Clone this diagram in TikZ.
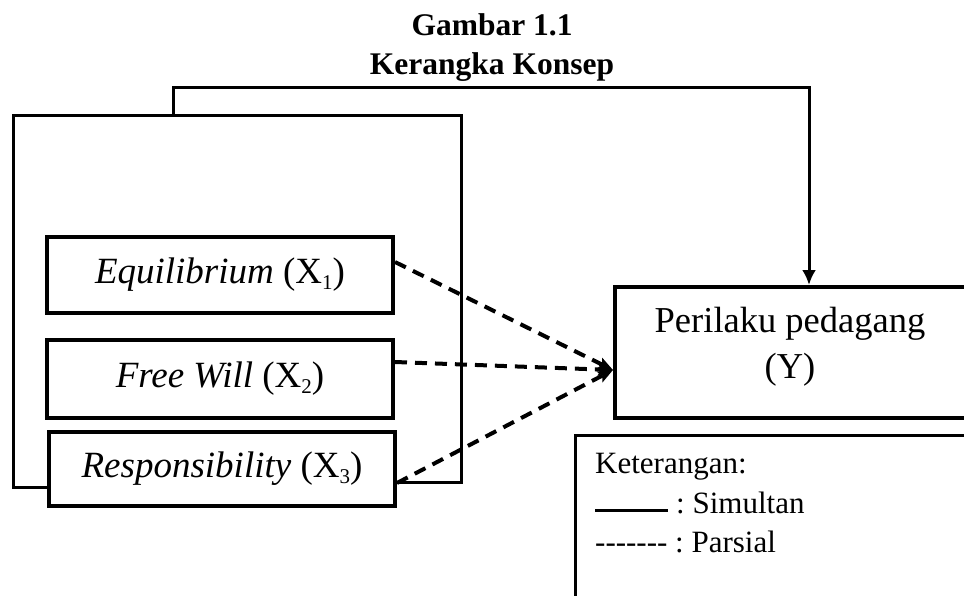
\documentclass[tikz,border=0pt]{standalone}
\usepackage{fontspec}
\setmainfont{Liberation Serif}
\usetikzlibrary{arrows.meta,calc}
\newcommand{\mysub}[1]{\raisebox{-5.5pt}{\fontsize{21}{21}\selectfont\upshape #1}}
\begin{document}
\frenchspacing
\begin{tikzpicture}[x=1pt,y=-1pt,
  box/.style={draw,line width=4pt,rectangle,inner sep=0pt,minimum width=346pt,minimum height=#1,
    font=\fontsize{37}{42}\selectfont},
  conn/.style={line width=3pt},
  part/.style={line width=4pt,dash pattern=on 12pt off 8pt,-{Stealth[length=15pt,width=12pt,inset=3pt]}},
  lbl/.style={inner sep=0pt,anchor=base west,font=\fontsize{31}{36}\selectfont},
  ttl/.style={inner sep=0pt,anchor=base,font=\bfseries\fontsize{31.5}{36}\selectfont}]
\useasboundingbox (0,0) rectangle (964,595);
\clip (0,0) rectangle (964,595);
\fill[white] (0,0) rectangle (964,595);

% title
\node[ttl] (t1) at (492,35) {Gambar 1.1};
\node[ttl] (t2) at (492,74) {Kerangka Konsep};

% variable boxes
\node[box=76pt] (x1) at (220,275) {\textit{Equilibrium} (X\mysub{1})};
\node[box=78pt] (x2) at (220,379) {\textit{Free Will} (X\mysub{2})};
\node[box=74pt] (x3) at (222,469) {\textit{Responsibility} (X\mysub{3})};

% dependent box
\node[draw,line width=4pt,rectangle,inner sep=0pt,minimum width=354pt,minimum height=131pt] (Y) at (792,352.5) {};
\node[inner sep=0pt,anchor=base,font=\fontsize{36.5}{46}\selectfont] (yl1) at (790,332) {Perilaku pedagang};
\node[inner sep=0pt,anchor=base,font=\fontsize{36.5}{46}\selectfont] (yl2) at (790,378) {(Y)};

% legend box
\node[draw,line width=3pt,rectangle,anchor=north west,minimum width=500pt,minimum height=300pt] (leg) at (573.5,433.5) {};
\node[lbl] (k1) at (595,473) {Keterangan:};
\coordinate (s1) at (595,510);
\coordinate (s2) at (668,510);
\draw[line width=3pt] (s1) -- (s2);
\node[lbl] (k2) at (676,513) {: Simultan};
\node[lbl] (k3) at (595,552) {-{}-{}-{}-{}-{}-{}- : Parsial};

% simultaneous frame
\coordinate (c1) at (173,115);
\coordinate (c2) at (173,87);
\coordinate (c3) at (809,87);
\draw[conn] ([yshift=-18pt]x3.west) -- (13,487) -- (13,115) -- (461,115) -- (461,482) -- ([yshift=-13pt]x3.east);
\draw[conn,-{Latex[length=15pt,width=14pt]}] (c1) -- (c2) -- (c3) -- (c3 |- Y.north);

% partial arrows
\coordinate (yin) at ([yshift=-17.5pt]Y.west);
\draw[part] ([yshift=13pt]x1.east) -- (yin);
\draw[part] ([yshift=17pt]x2.east) -- (yin);
\draw[part] ([yshift=-14pt]x3.east) -- (yin);
\end{tikzpicture}
\end{document}
